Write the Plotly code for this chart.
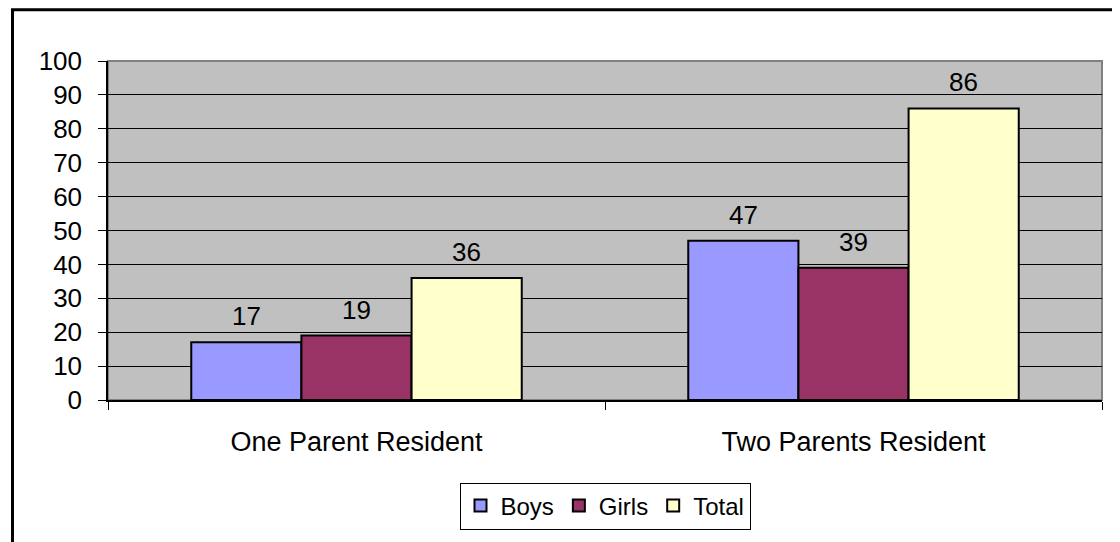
import plotly.graph_objects as go

categories = ["One Parent Resident", "Two Parents Resident"]
series_names = ["Boys", "Girls", "Total"]
boys = [17, 47]
girls = [19, 39]
total = [36, 86]
colors = ["#9999FF", "#993366", "#FFFFCC"]
y_ticks = list(range(0, 101, 10))

# page offset (default body margin of the written HTML page)
OFF = 8
W, H = 1120 - OFF, 542 - OFF
ML, MR, MT, MB = 108 - OFF, 18, 61 - OFF, 140
PW, PH = W - ML - MR, H - MT - MB
BARGAP = 0.335
FONT = "Liberation Sans, Arial, sans-serif"

def px_x(p):
    return (p - OFF - ML) / PW

def px_y(p):
    return (H - MB - (p - OFF)) / PH

fig = go.Figure()
all_series = [boys, girls, total]
for name, vals, col in zip(series_names, all_series, colors):
    fig.add_trace(go.Bar(
        x=categories, y=vals, name=name,
        marker=dict(color=col, line=dict(color="black", width=2)),
        hoverinfo="x+y+name",
    ))

# data labels
w = (1 - BARGAP) / len(series_names)
annotations = []
for j, vals in enumerate(all_series):
    for i, v in enumerate(vals):
        annotations.append(dict(
            x=i + (j - (len(series_names) - 1) / 2) * w, y=v,
            xref="x", yref="y", text=str(v), showarrow=False,
            yanchor="bottom", yshift=9,
            font=dict(family=FONT, size=26, color="black"),
        ))

shapes = [
    # plot area border (gray)
    dict(type="rect", xref="paper", yref="paper", x0=0, x1=1, y0=0, y1=1,
         line=dict(color="#808080", width=2), layer="between"),
    # outer chart frame (clipped on right and bottom)
    dict(type="rect", xref="paper", yref="paper",
         x0=px_x(12.5), x1=px_x(1120 + 20), y0=px_y(542 + 20), y1=px_y(9.5),
         line=dict(color="black", width=3), fillcolor="rgba(0,0,0,0)", layer="above"),
]

fig.update_layout(
    width=W, height=H,
    margin=dict(l=ML, r=MR, t=MT, b=MB, pad=0),
    paper_bgcolor="white", plot_bgcolor="#C0C0C0",
    barmode="group", bargap=BARGAP, bargroupgap=0,
    font=dict(family=FONT, size=26, color="black"),
    showlegend=True,
    legend=dict(
        orientation="h", x=0.5, xanchor="center", y=px_y(485), yanchor="top",
        bordercolor="black", borderwidth=1, bgcolor="white",
        font=dict(family=FONT, size=24, color="black"),
        itemwidth=30, traceorder="normal",
    ),
    annotations=annotations,
    shapes=shapes,
    xaxis=dict(
        type="category", showgrid=False, showline=True, linecolor="black", linewidth=1.5,
        ticks="outside", tickson="boundaries", ticklen=8, tickcolor="black", tickwidth=1,
        tickfont=dict(family=FONT, size=27, color="black"), ticklabelstandoff=17,
        zeroline=False,
    ),
    yaxis=dict(
        range=[0, 100], tickvals=y_ticks, showgrid=True, gridcolor="black", gridwidth=1,
        showline=True, linecolor="black", linewidth=1.5, zeroline=False,
        ticks="outside", ticklen=8, tickcolor="black", tickwidth=1,
        tickfont=dict(family=FONT, size=26, color="black"), ticklabelstandoff=11,
    ),
)

fig.write_html("out.html")
